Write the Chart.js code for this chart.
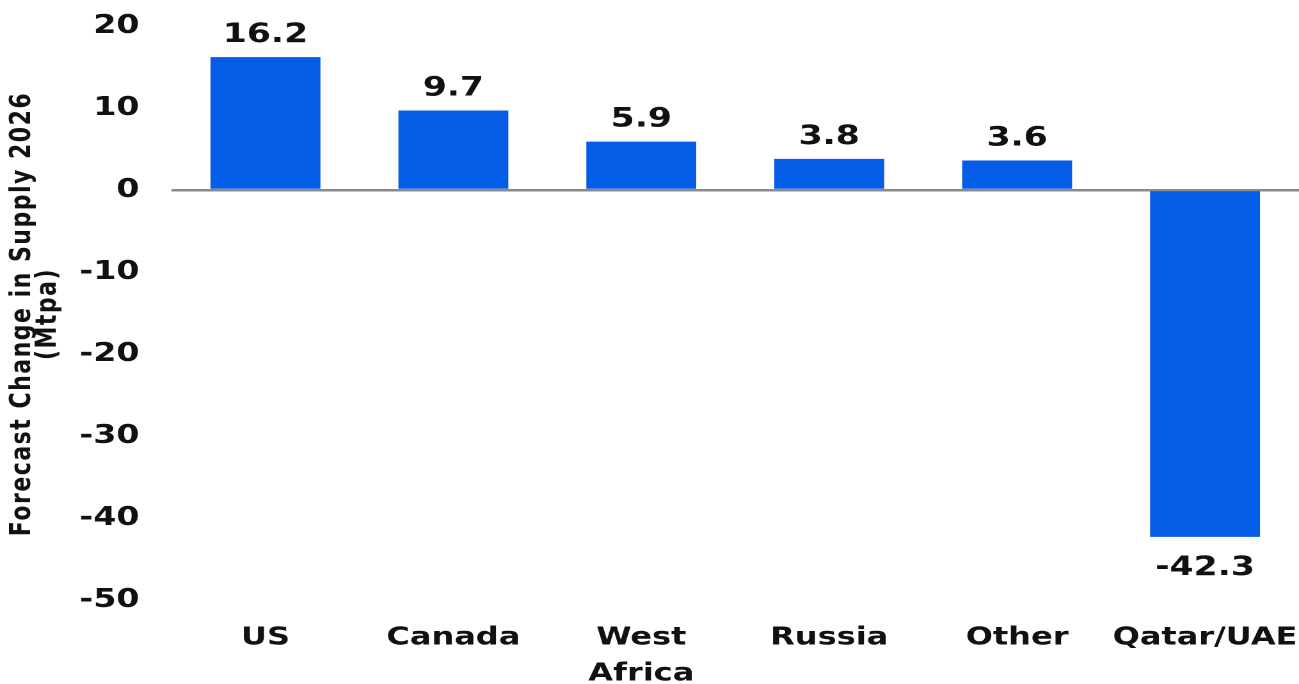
<!DOCTYPE html>
<html>
<head>
<meta charset="utf-8">
<script src="https://cdn.jsdelivr.net/npm/chart.js@4"></script>
<style>
  html, body { margin: 0; padding: 0; background: #fff; overflow: hidden; }
  /* the source picture is stretched sideways, so draw narrow and stretch the canvas */
  #myChart { display: block; width: 1299px; height: 684px; }
</style>
</head>
<body>
<canvas id="myChart" width="1015" height="684" style="width:1299px;height:684px"></canvas>
<script>
const categories = ['US', 'Canada', ['West', 'Africa'], 'Russia', 'Other', 'Qatar/UAE'];
const supplyChange = [16.2, 9.7, 5.9, 3.8, 3.6, -42.3];
const yTicks = [-50, -40, -30, -20, -10, 0, 10, 20];
const axisTitle = ['Forecast Change in Supply 2026', '(Mtpa)'];

const FONT = 'DejaVu Sans';
const INK = '#111';

// value above each positive bar, below each negative one
const barValues = {
  id: 'barValues',
  afterDatasetsDraw(chart) {
    const ctx = chart.ctx;
    const meta = chart.getDatasetMeta(0);
    ctx.save();
    ctx.font = 'bold 27px "' + FONT + '"';
    ctx.fillStyle = INK;
    ctx.textAlign = 'center';
    ctx.textBaseline = 'alphabetic';
    meta.data.forEach((bar, i) => {
      const v = supplyChange[i];
      const y = v >= 0 ? bar.y - 15 : bar.y + 38;
      ctx.fillText(v.toFixed(1), bar.x, y);
    });
    ctx.restore();
  }
};

// y axis title drawn by hand: tight line gap and a little letter spacing
const yTitle = {
  id: 'yTitle',
  afterDraw(chart) {
    const ctx = chart.ctx;
    const area = chart.chartArea;
    const cy = (area.top + area.bottom) / 2 + 1;
    const xs = [18, 38];
    ctx.save();
    ctx.font = 'bold 22px "' + FONT + '"';
    ctx.fillStyle = INK;
    ctx.textAlign = 'center';
    ctx.textBaseline = 'middle';
    if ('letterSpacing' in ctx) ctx.letterSpacing = '1.5px';
    axisTitle.forEach((line, i) => {
      ctx.save();
      ctx.translate(xs[i], cy);
      ctx.rotate(-Math.PI / 2);
      ctx.fillText(line, 0, 0);
      ctx.restore();
    });
    ctx.restore();
  }
};

new Chart(document.getElementById('myChart'), {
  type: 'bar',
  data: {
    labels: categories,
    datasets: [{
      data: supplyChange,
      backgroundColor: '#055ce6',
      categoryPercentage: 1,
      barPercentage: 0.585
    }]
  },
  options: {
    responsive: false,
    animation: false,
    devicePixelRatio: 2,
    layout: { padding: { left: 0, top: 26, right: 0, bottom: 0 } },
    plugins: { legend: { display: false }, tooltip: { enabled: false } },
    scales: {
      x: {
        grid: { display: false, drawTicks: false },
        border: { display: false },
        afterFit(scale) {
          scale.height = 84;
          scale.paddingLeft = 0;
          scale.paddingRight = 0;
        },
        ticks: {
          color: INK,
          font: { family: FONT, size: 25, weight: 'bold', lineHeight: 1.44 },
          padding: 20,
          maxRotation: 0,
          autoSkip: false
        }
      },
      y: {
        min: -50,
        max: 20,
        afterBuildTicks(scale) { scale.ticks = yTicks.map(v => ({ value: v })); },
        afterFit(scale) {
          scale.width = 134;
          scale.paddingTop = 0;
          scale.paddingBottom = 0;
        },
        border: { display: false },
        grid: {
          drawTicks: false,
          lineWidth: 2.5,
          color: c => c.tick && c.tick.value === 0 ? '#8a8a8a' : 'rgba(0,0,0,0)'
        },
        ticks: {
          color: INK,
          font: { family: FONT, size: 26, weight: 'bold' },
          padding: 25
        }
      }
    }
  },
  plugins: [barValues, yTitle]
});
</script>
</body>
</html>
